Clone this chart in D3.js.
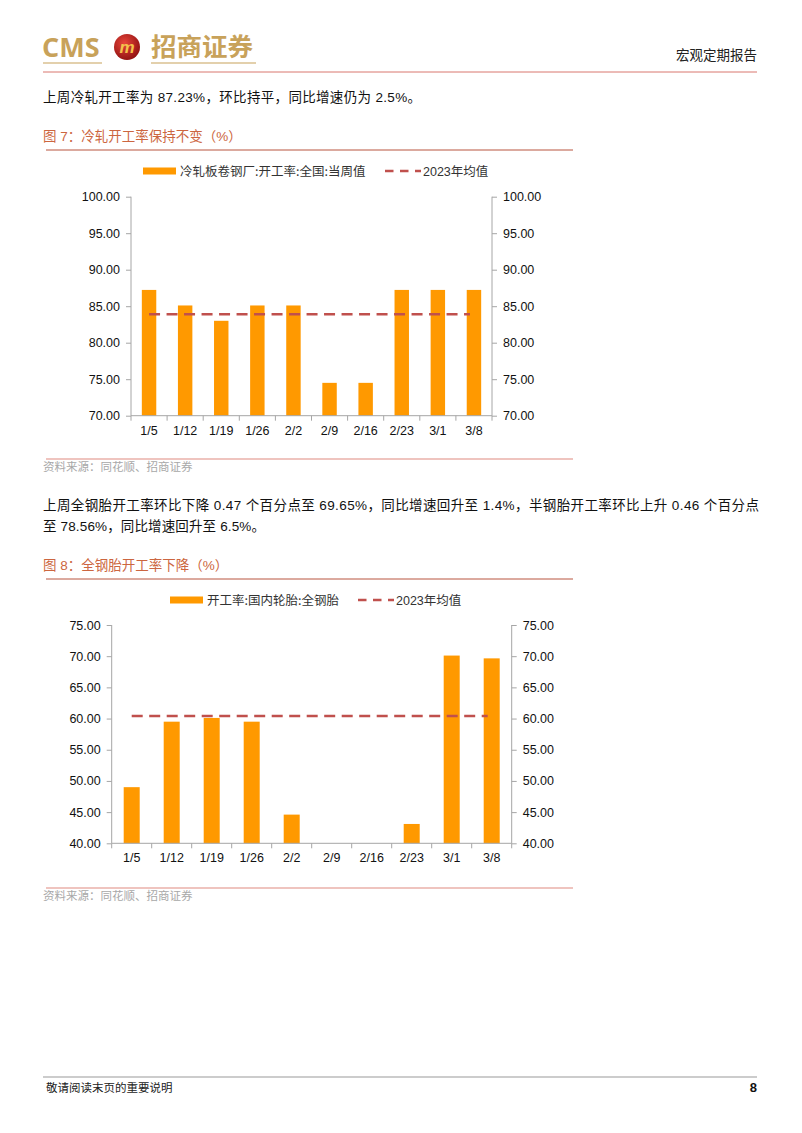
<!DOCTYPE html>
<meta charset="utf-8">
<head>
  <title>宏观定期报告 - 开工率</title>
</head>
<style>
  html, body {
    margin: 0;
    padding: 0;
    background: #fff;
    overflow: hidden;
  }
  svg text {
    font-family: "Liberation Sans", Arial, "Noto Sans CJK SC", sans-serif;
  }
  .cjk {
    font-family: "Noto Sans CJK SC", sans-serif;
  }
</style>
<body>
<script src="https://d3js.org/d3.v7.min.js"></script>
<script>
// dates on the x axis (both charts)
var weeks = ['1/5', '1/12', '1/19', '1/26', '2/2', '2/9', '2/16', '2/23', '3/1', '3/8'];

// fig 7: cold rolling mill utilisation
var coldRolled = [87.23, 85.1, 83.0, 85.1, 85.1, 74.5, 74.5, 87.23, 87.23, 87.23];
var coldRolledAvg = 83.9;
var coldTicks = [70, 75, 80, 85, 90, 95, 100];

// fig 8: all-steel tyre utilisation
var allSteel = [49.0, 59.5, 60.1, 59.5, 44.6, 40.0, 40.0, 43.1, 70.1, 69.65];
var allSteelAvg = 60.4;
var steelTicks = [40, 45, 50, 55, 60, 65, 70, 75];

var ORANGE = '#ff9900', DASH = '#c0504d', AXIS = '#a6a6a6';
var TITLE = '#cc6640', TITLE_LINE = '#b8553e', SRC_LINE = '#e08a80';

var svg = d3.select('body').append('svg')
  .attr('width', 802).attr('height', 1133);

// ---------- page header ----------
var gold = '#c8a25a';
svg.append('text').attr('x', 42).attr('y', 57)
  .attr('font-size', 27).attr('font-weight', 'bold').attr('fill', gold)
  .style('font-family', '"Open Sans", "Liberation Sans", sans-serif')
  .text('CMS');
svg.append('line').attr('x1', 43).attr('x2', 102).attr('y1', 63).attr('y2', 63)
  .attr('stroke', gold).attr('stroke-width', 1.2);
var grad = svg.append('defs').append('radialGradient').attr('id', 'lg')
  .attr('cx', '40%').attr('cy', '35%').attr('r', '70%');
grad.append('stop').attr('offset', '0%').attr('stop-color', '#e8453a');
grad.append('stop').attr('offset', '100%').attr('stop-color', '#8e1010');
svg.append('circle').attr('cx', 127).attr('cy', 47).attr('r', 13)
  .attr('fill', 'url(#lg)');
svg.append('text').attr('x', 127).attr('y', 53).attr('text-anchor', 'middle')
  .attr('font-size', 17).attr('font-weight', 'bold').attr('font-style', 'italic')
  .attr('fill', '#f3c14b').text('m');
svg.append('text').attr('class', 'cjk').attr('x', 151).attr('y', 56)
  .attr('font-size', 25.5).attr('font-weight', 'bold').attr('fill', gold)
  .text('招商证券');
svg.append('line').attr('x1', 151).attr('x2', 256).attr('y1', 63).attr('y2', 63)
  .attr('stroke', gold).attr('stroke-width', 1.2);
svg.append('text').attr('class', 'cjk').attr('x', 757).attr('y', 60)
  .attr('text-anchor', 'end').attr('font-size', 13.5).attr('fill', '#222')
  .text('宏观定期报告');
svg.append('line').attr('x1', 43).attr('x2', 757).attr('y1', 72).attr('y2', 72)
  .attr('stroke', '#d9776f').attr('stroke-width', 1);

// ---------- paragraphs ----------
function para(y, txt, len) {
  var t = svg.append('text').attr('x', 43).attr('y', y)
    .attr('font-size', 13.5).attr('fill', '#111').text(txt);
  if (len) t.attr('textLength', len).attr('lengthAdjust', 'spacing');
}
para(102, '上周冷轧开工率为 87.23%，环比持平，同比增速仍为 2.5%。', 378);
para(510, '上周全钢胎开工率环比下降 0.47 个百分点至 69.65%，同比增速回升至 1.4%，半钢胎开工率环比上升 0.46 个百分点', 716);
para(531, '至 78.56%，同比增速回升至 6.5%。', 222);

function figTitle(y, txt) {
  svg.append('text').attr('x', 43).attr('y', y)
    .attr('font-size', 13.5).attr('fill', TITLE).text(txt);
  svg.append('line').attr('x1', 46).attr('x2', 573).attr('y1', y + 9).attr('y2', y + 9)
    .attr('stroke', TITLE_LINE).attr('stroke-width', 1);
}
function source(y) {
  svg.append('line').attr('x1', 46).attr('x2', 573).attr('y1', y - 8).attr('y2', y - 8)
    .attr('stroke', SRC_LINE).attr('stroke-width', 1.2);
  svg.append('text').attr('class', 'cjk').attr('x', 43).attr('y', y + 4)
    .attr('font-size', 11.5).attr('fill', '#a8a8a8').text('资料来源：同花顺、招商证券');
}
figTitle(141, '图 7：冷轧开工率保持不变（%）');
source(467);
figTitle(570, '图 8：全钢胎开工率下降（%）');
source(896);

// ---------- charts ----------
function barChart(opt) {
  var x = d3.scaleBand().domain(weeks).range([opt.x0, opt.x1]).paddingInner(0.6).paddingOuter(0.3);
  var band = d3.scaleBand().domain(weeks).range([opt.x0, opt.x1]);
  var y = d3.scaleLinear().domain(opt.domain).range([opt.y0, opt.y1]);
  var g = svg.append('g');

  // bars
  g.selectAll('rect.bar').data(opt.values).enter().append('rect')
    .attr('class', 'bar')
    .attr('x', function(d, i) { return x(weeks[i]); })
    .attr('width', x.bandwidth())
    .attr('y', function(d) { return y(d); })
    .attr('height', function(d) { return opt.y0 - y(d); })
    .attr('fill', ORANGE);

  // 2023 average
  g.append('line')
    .attr('x1', band(weeks[0]) + band.bandwidth() / 2)
    .attr('x2', band(weeks[weeks.length - 1]) + band.bandwidth() / 2 - 4)
    .attr('y1', y(opt.avg)).attr('y2', y(opt.avg))
    .attr('stroke', DASH).attr('stroke-width', 2.6).attr('stroke-dasharray', '11,6.5');

  // axes
  var left = d3.axisLeft(y).tickValues(opt.ticks).tickFormat(d3.format('.2f')).tickSize(5).tickPadding(6);
  var right = d3.axisRight(y).tickValues(opt.ticks).tickFormat(d3.format('.2f')).tickSize(5).tickPadding(6);
  var bottom = d3.axisBottom(band).tickSize(0).tickPadding(10);

  function style(ax) {
    ax.selectAll('path, line').attr('stroke', AXIS);
    ax.selectAll('text').attr('font-size', 12.5).attr('fill', '#111')
      .style('font-family', '"Liberation Sans", Arial, sans-serif');
  }
  var gl = g.append('g').attr('transform', 'translate(' + opt.x0 + ',0)').call(left);
  var gr = g.append('g').attr('transform', 'translate(' + opt.x1 + ',0)').call(right);
  var gb = g.append('g').attr('transform', 'translate(0,' + opt.y0 + ')').call(bottom);
  [gl, gr, gb].forEach(style);
  gl.select('.domain').remove(); gr.select('.domain').remove(); gb.select('.domain').remove();
  g.append('line').attr('x1', opt.x0).attr('x2', opt.x0).attr('y1', opt.y0).attr('y2', opt.y1)
    .attr('stroke', AXIS);
  g.append('line').attr('x1', opt.x1).attr('x2', opt.x1).attr('y1', opt.y0).attr('y2', opt.y1)
    .attr('stroke', AXIS);
  g.append('line').attr('x1', opt.x0).attr('x2', opt.x1).attr('y1', opt.y0).attr('y2', opt.y0)
    .attr('stroke', AXIS);
  // category separators on x axis
  g.selectAll('line.sep').data(d3.range(weeks.length + 1)).enter().append('line')
    .attr('class', 'sep')
    .attr('x1', function(i) { return opt.x0 + i * band.step(); })
    .attr('x2', function(i) { return opt.x0 + i * band.step(); })
    .attr('y1', opt.y0).attr('y2', opt.y0 + 5)
    .attr('stroke', AXIS);

  // legend
  var lg = g.append('g');
  lg.append('rect').attr('x', opt.leg[0]).attr('y', opt.legY - 3.5)
    .attr('width', 33).attr('height', 7).attr('fill', ORANGE);
  lg.append('text').attr('class', 'cjk').attr('x', opt.leg[0] + 37).attr('y', opt.legY + 4.5)
    .attr('font-size', 12.5).attr('fill', '#333').text(opt.name);
  lg.append('line').attr('x1', opt.leg[1]).attr('x2', opt.leg[1] + 36)
    .attr('y1', opt.legY).attr('y2', opt.legY)
    .attr('stroke', DASH).attr('stroke-width', 2.6).attr('stroke-dasharray', '8.5,6.5');
  lg.append('text').attr('x', opt.leg[1] + 38).attr('y', opt.legY + 4.5)
    .attr('font-size', 12.5).attr('fill', '#333').text('2023年均值');
}

barChart({
  values: coldRolled, avg: coldRolledAvg, ticks: coldTicks, domain: [70, 100],
  x0: 131, x1: 492, y0: 415.7, y1: 196.7,
  name: '冷轧板卷钢厂:开工率:全国:当周值', leg: [143, 385], legY: 171
});
barChart({
  values: allSteel, avg: allSteelAvg, ticks: steelTicks, domain: [40, 75],
  x0: 111.7, x1: 511.7, y0: 843.3, y1: 625,
  name: '开工率:国内轮胎:全钢胎', leg: [170, 358], legY: 600
});

// ---------- footer ----------
svg.append('line').attr('x1', 43).attr('x2', 757).attr('y1', 1077).attr('y2', 1077)
  .attr('stroke', '#999').attr('stroke-width', 1);
svg.append('text').attr('class', 'cjk').attr('x', 46).attr('y', 1092)
  .attr('font-size', 11.5).attr('fill', '#222').text('敬请阅读末页的重要说明');
svg.append('text').attr('x', 757).attr('y', 1092).attr('text-anchor', 'end')
  .attr('font-size', 13).attr('font-weight', 'bold').attr('fill', '#111').text('8');
</script>
</body>
